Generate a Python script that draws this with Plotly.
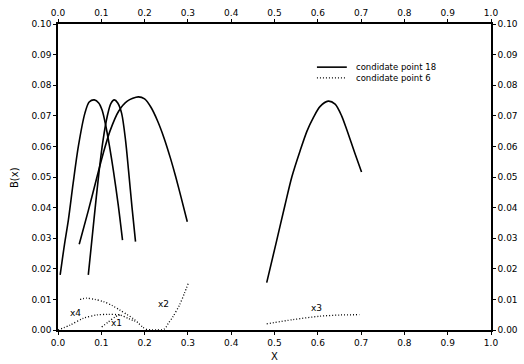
import plotly.graph_objects as go

# ---- data ----
# candidate point 18 (solid curves)
a_x = [0.005, 0.015, 0.024, 0.035, 0.047, 0.062, 0.072, 0.084, 0.094, 0.102, 0.110, 0.119, 0.128, 0.139, 0.149]
a_y = [0.018, 0.028, 0.036, 0.048, 0.060, 0.0708, 0.0745, 0.0752, 0.0742, 0.0718, 0.067, 0.060, 0.052, 0.041, 0.0294]
b_x = [0.070, 0.083, 0.095, 0.104, 0.114, 0.122, 0.130, 0.138, 0.147, 0.156, 0.163, 0.171, 0.179]
b_y = [0.018, 0.036, 0.052, 0.062, 0.070, 0.074, 0.0752, 0.0742, 0.0708, 0.062, 0.052, 0.040, 0.0289]
c_x = [0.049, 0.070, 0.090, 0.105, 0.120, 0.140, 0.160, 0.1855, 0.200, 0.215, 0.230, 0.245, 0.260, 0.272, 0.284, 0.2986]
c_y = [0.028, 0.039, 0.050, 0.058, 0.065, 0.0715, 0.0748, 0.0762, 0.0755, 0.0727, 0.0683, 0.0627, 0.056, 0.050, 0.0435, 0.0354]
d_x = [0.482, 0.505, 0.524, 0.540, 0.559, 0.575, 0.590, 0.605, 0.624, 0.640, 0.655, 0.668, 0.685, 0.701]
d_y = [0.0155, 0.0292, 0.0407, 0.050, 0.0585, 0.065, 0.0695, 0.0730, 0.0748, 0.0738, 0.0700, 0.0650, 0.0580, 0.0516]

# candidate point 6 (dotted curves)
x4_x = [0.051, 0.066, 0.085, 0.105, 0.125, 0.143, 0.160, 0.174, 0.186, 0.195, 0.203]
x4_y = [0.0100, 0.0104, 0.0100, 0.0093, 0.0080, 0.0065, 0.0050, 0.0037, 0.0022, 0.0010, 0.0002]
lo_x = [0.0, 0.028, 0.058, 0.089, 0.116, 0.143, 0.162, 0.178]
lo_y = [0.0, 0.0016, 0.0038, 0.0049, 0.0051, 0.0049, 0.0038, 0.0028]
x1_x = [0.101, 0.115, 0.132, 0.147]
x1_y = [0.001, 0.0025, 0.0043, 0.0052]
x2_x = [0.203, 0.245, 0.255, 0.266, 0.280, 0.292, 0.301]
x2_y = [0.0002, 0.0003, 0.0022, 0.0045, 0.0080, 0.0120, 0.0153]
x3_x = [0.482, 0.543, 0.605, 0.651, 0.696]
x3_y = [0.0020, 0.0034, 0.0045, 0.0049, 0.0050]

labels = ["x4", "x1", "x2", "x3"]
label_x = [0.040, 0.136, 0.243, 0.597]
label_y = [0.0055, 0.0022, 0.0085, 0.0072]

x_ticks = [0.0, 0.1, 0.2, 0.3, 0.4, 0.5, 0.6, 0.7, 0.8, 0.9, 1.0]
y_ticks = [0.00, 0.01, 0.02, 0.03, 0.04, 0.05, 0.06, 0.07, 0.08, 0.09, 0.10]

legend_names = ["condidate point 18", "condidate point 6"]
x_title = "X"
y_title = "B(x)"


def join(xs_list, ys_list):
    X, Y = [], []
    for xs, ys in zip(xs_list, ys_list):
        X += xs + [None]
        Y += ys + [None]
    return X, Y


sx, sy = join([a_x, b_x, c_x, d_x], [a_y, b_y, c_y, d_y])
dx, dy = join([x4_x, lo_x, x1_x, x2_x, x3_x], [x4_y, lo_y, x1_y, x2_y, x3_y])

FONT = "DejaVu Sans"
SOLID = dict(color="black", width=1.6)
DOTTED = dict(color="black", width=1.3, dash="1px,2px")

fig = go.Figure()
fig.add_trace(go.Scatter(x=sx, y=sy, mode="lines", name=legend_names[0], showlegend=False,
                         line=dict(**SOLID, shape="spline", smoothing=0.8),
                         connectgaps=False))
fig.add_trace(go.Scatter(x=dx, y=dy, mode="lines", name=legend_names[1], showlegend=False,
                         line=dict(**DOTTED, shape="spline", smoothing=0.8),
                         connectgaps=False))
# invisible trace to anchor the mirrored top/right axes
fig.add_trace(go.Scatter(x=[0, 1], y=[0, 0.1], xaxis="x2", yaxis="y2", mode="markers",
                         marker=dict(opacity=0), showlegend=False, hoverinfo="skip"))

for t, lx, ly in zip(labels, label_x, label_y):
    fig.add_annotation(x=lx, y=ly, text=t, showarrow=False,
                       font=dict(family=FONT, size=9, color="black"))

# hand-drawn legend (compact, as in the original)
for name, style, yy in zip(legend_names, [SOLID, DOTTED], [0.859, 0.824]):
    fig.add_shape(type="line", xref="paper", yref="paper", x0=0.598, x1=0.667, y0=yy, y1=yy,
                  line=style)
    fig.add_annotation(xref="paper", yref="paper", x=0.684, y=yy, text=name, showarrow=False,
                       xanchor="left", yanchor="middle",
                       font=dict(family=FONT, size=8.5, color="black"))

# axis titles
fig.add_annotation(xref="paper", yref="paper", x=0.499, y=-0.085, text=x_title, showarrow=False,
                   xanchor="center", yanchor="middle", font=dict(family=FONT, size=10, color="black"))
fig.add_annotation(xref="paper", yref="paper", x=-0.099, y=0.497, text=y_title, showarrow=False,
                   textangle=-90, xanchor="center", yanchor="middle",
                   font=dict(family=FONT, size=10, color="black"))

axis_common = dict(showgrid=False, zeroline=False, showline=True, linecolor="black",
                   linewidth=1.5, ticks="outside", ticklen=3, tickcolor="black", automargin=False,
                   tickfont=dict(family=FONT, size=9, color="black"))

fig.update_layout(
    width=524, height=364,
    margin=dict(l=58, r=33, t=24, b=34, autoexpand=False),
    paper_bgcolor="white", plot_bgcolor="white",
    showlegend=False,
    xaxis=dict(range=[0, 1], tickvals=x_ticks, tickformat=".1f", **axis_common),
    yaxis=dict(range=[0, 0.10], tickvals=y_ticks, tickformat=".2f", **axis_common),
    xaxis2=dict(range=[0, 1], tickvals=x_ticks, tickformat=".1f", overlaying="x",
                side="top", anchor="y2", **axis_common),
    yaxis2=dict(range=[0, 0.10], tickvals=y_ticks, tickformat=".2f", overlaying="y",
                side="right", anchor="x2", **axis_common),
)

fig.write_html("out.html")
